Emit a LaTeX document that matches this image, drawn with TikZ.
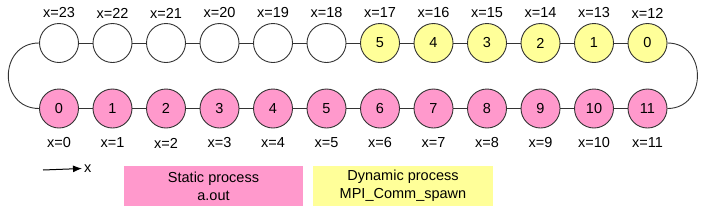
\documentclass[tikz,border=0pt]{standalone}
\usepackage{fontspec}
\usetikzlibrary{arrows.meta}
\setmainfont{Liberation Sans}
\definecolor{pinkfill}{HTML}{FF99CC}
\definecolor{yelfill}{HTML}{FFFF99}
\definecolor{edgecol}{HTML}{333333}
\begin{document}
\begin{tikzpicture}[x=1pt,y=-1pt,
  proc/.style={circle,draw=edgecol,line width=0.9pt,minimum size=39pt,inner sep=0pt,font=\fontsize{14.5}{16}\selectfont},
  statp/.style={proc,fill=pinkfill},
  dynp/.style={proc,fill=yelfill},
  emptyp/.style={proc,fill=white},
  lbl/.style={font=\fontsize{14.5}{16}\selectfont,inner sep=0pt},
  link/.style={draw=edgecol,line width=0.9pt},
  legendbox/.style={fill=#1,minimum width=179pt,minimum height=40pt,inner sep=0pt,align=center,font=\fontsize{14.5}{18}\selectfont}]
\useasboundingbox (0,0) rectangle (704,218);
% bottom row
\foreach \i in {0,...,11}{
  \node[statp] (b\i) at ({59+53.5*\i},108.5) {\i};
  \node[lbl] (bl\i) at ({59+53.5*\i},143) {x=\i};
}
% top row
\foreach \i [evaluate=\i as \xv using int(23-\i)] in {0,...,5}{
  \node[emptyp] (t\i) at ({59+53.5*\i},43) {};
  \node[lbl] (tl\i) at ({59+53.5*\i},13) {x=\xv};
}
\foreach \i [evaluate=\i as \xv using int(23-\i), evaluate=\i as \nv using int(11-\i)] in {6,...,11}{
  \node[dynp] (t\i) at ({59+53.5*\i},43) {\nv};
  \node[lbl] (tl\i) at ({59+53.5*\i},13) {x=\xv};
}
\foreach \i [evaluate=\i as \j using int(\i+1)] in {0,...,10}{
  \draw[link] (b\i) -- (b\j);
  \draw[link] (t\i) -- (t\j);
}
\draw[link] (t0.west) .. controls +(-41,0) and +(-41,0) .. (b0.west);
\draw[link] (t11.east) .. controls +(40,0) and +(40,0) .. (b11.east);
% axis arrow
\coordinate (ax0) at (43,170);
\node[lbl,anchor=west] (axl) at (84,168.5) {x};
\draw[line width=1pt,-{Latex[length=9pt,width=7pt]}] (ax0) -- ([xshift=-2pt]axl.west);
% legend
\node[legendbox=pinkfill] (stat) at (213.5,186) {Static process\\a.out};
\node[legendbox=yelfill,minimum width=180pt] (dyn) at (403,186) {Dynamic process\\MPI\_Comm\_spawn};
\end{tikzpicture}
\end{document}
